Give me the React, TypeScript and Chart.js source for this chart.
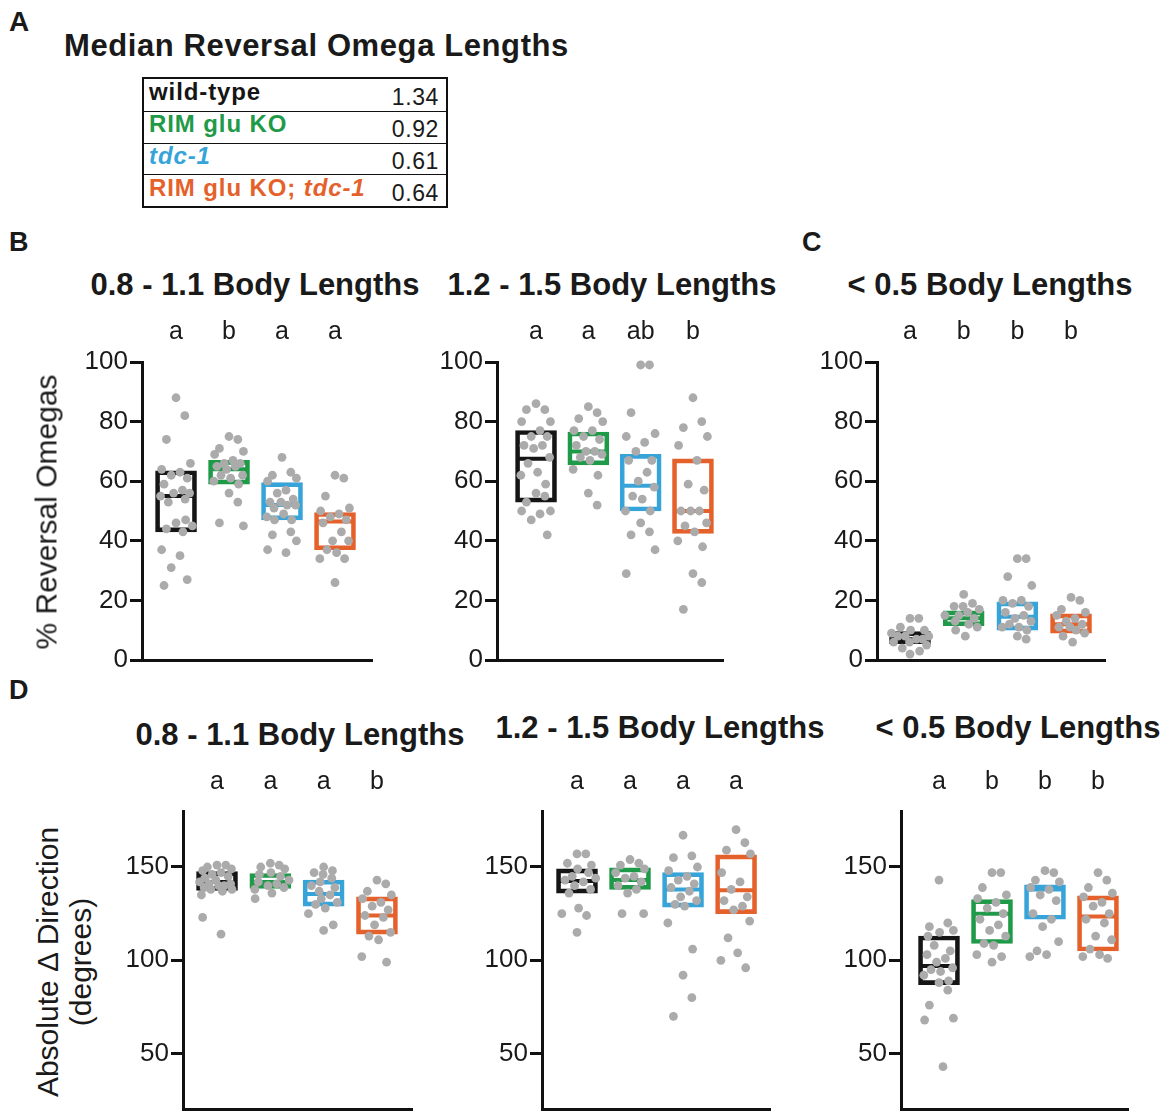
import React, { useEffect, useRef } from "react";
import { Chart, registerables } from "chart.js";

Chart.register(...registerables);

const FONT = "'Liberation Sans', Arial, Helvetica, sans-serif";
const INK = "#1a1a1a";
const DOT = "#ababab";

// ---------- data ----------
const groupNames = ["wild-type", "RIM glu KO", "tdc-1", "RIM glu KO; tdc-1"];
const groupColors = ["#151515", "#1f9a48", "#37a4d9", "#e5612b"];
const medianLengths = ["1.34", "0.92", "0.61", "0.64"];

const titleMid = "0.8 - 1.1 Body Lengths";
const titleLong = "1.2 - 1.5 Body Lengths";
const titleShort = "< 0.5 Body Lengths";

const percentTicks = [0, 20, 40, 60, 80, 100];
const degreeTicks = [50, 100, 150];

// B: 0.8 - 1.1 body lengths (% reversal omegas)
const b1WildType = [88, 82, 74, 66, 64, 63, 62, 61, 59, 57, 56, 56, 55, 54, 53, 47, 46, 45, 44, 43, 37, 35, 31, 27, 25];
const b1GluKO = [75, 74, 71, 70, 69, 67, 66, 66, 65, 65, 64, 62, 62, 61, 60, 59, 56, 53, 46, 45];
const b1Tdc1 = [68, 63, 62, 61, 60, 57, 56, 54, 53, 53, 52, 52, 51, 49, 48, 47, 47, 43, 42, 40, 37, 36];
const b1Double = [62, 61, 55, 51, 50, 49, 48, 47, 46, 43, 40, 40, 37, 36, 34, 34, 26];
const b1Q1 = [43, 59, 47, 37];
const b1Median = [55, 64, 52, 46.5];
const b1Q3 = [63.5, 67, 59.5, 49.5];
const b1Letters = ["a", "b", "a", "a"];

// B: 1.2 - 1.5 body lengths
const b2WildType = [86, 84, 84, 80, 80, 77, 75, 75, 72, 72, 71, 68, 66, 63, 62, 59, 56, 55, 53, 50, 50, 49, 47, 42];
const b2GluKO = [85, 83, 81, 80, 77, 77, 75, 74, 72, 70, 70, 69, 68, 67, 64, 62, 56, 52];
const b2Tdc1 = [99, 99, 83, 76, 75, 73, 70, 67, 67, 63, 60, 58, 55, 54, 50, 50, 46, 43, 42, 37, 29];
const b2Double = [88, 80, 78, 75, 72, 67, 59, 57, 50, 50, 50, 46, 45, 43, 40, 38, 29, 26, 17];
const b2Q1 = [53, 65.5, 50, 42.5];
const b2Median = [67.5, 70, 58.5, 50];
const b2Q3 = [77, 76.5, 69, 67.5];
const b2Letters = ["a", "a", "ab", "b"];

// C: < 0.5 body lengths
const cWildType = [14, 14, 11, 10, 10, 9, 8, 8, 8, 7, 7, 6, 6, 5, 4, 3, 2];
const cGluKO = [22, 19, 18, 18, 17, 16, 15, 15, 14, 13, 12, 11, 10, 8];
const cTdc1 = [34, 34, 28, 25, 20, 20, 19, 18, 16, 15, 14, 13, 12, 11, 11, 10, 8, 7];
const cDouble = [21, 20, 17, 16, 15, 14, 13, 12, 11, 11, 10, 9, 8, 6];
const cQ1 = [5.5, 11.5, 10, 9];
const cMedian = [7, 14, 14.5, 12];
const cQ3 = [9.5, 16.5, 19.5, 15.5];
const cLetters = ["a", "b", "b", "b"];

// D: absolute change in direction (degrees)
const d1WildType = [151, 151, 150, 149, 148, 147, 146, 145, 144, 143, 142, 141, 141, 140, 140, 139, 138, 138, 137, 135, 123, 114];
const d1GluKO = [152, 151, 150, 149, 147, 146, 145, 143, 142, 141, 140, 139, 138, 136, 133];
const d1Tdc1 = [150, 148, 147, 146, 144, 142, 140, 139, 137, 135, 133, 131, 130, 128, 125, 119, 116];
const d1Double = [143, 141, 137, 135, 133, 131, 129, 127, 124, 123, 119, 115, 113, 111, 102, 99];
const d1Q1 = [137.5, 138.5, 129, 114];
const d1Median = [142, 142, 135.5, 124];
const d1Q3 = [147.5, 146.5, 143, 134];
const d1Letters = ["a", "a", "a", "b"];

const d2WildType = [157, 157, 152, 151, 149, 147, 145, 144, 143, 142, 140, 138, 136, 128, 125, 124, 115];
const d2GluKO = [154, 152, 151, 149, 147, 145, 144, 142, 140, 138, 136, 125, 125];
const d2Tdc1 = [167, 156, 155, 150, 148, 145, 143, 141, 139, 137, 134, 132, 130, 129, 120, 106, 92, 80, 70];
const d2Double = [170, 163, 159, 157, 147, 142, 138, 134, 132, 129, 127, 121, 112, 104, 100, 96];
const d2Q1 = [136, 138, 128.5, 125];
const d2Median = [142.5, 143, 138, 137.5];
const d2Q3 = [149, 149.5, 147, 156.5];
const d2Letters = ["a", "a", "a", "a"];

const d3WildType = [143, 120, 118, 116, 115, 113, 108, 105, 103, 101, 99, 96, 95, 94, 92, 89, 88, 84, 76, 69, 68, 43];
const d3GluKO = [147, 147, 139, 135, 133, 131, 128, 125, 122, 119, 116, 113, 109, 108, 103, 102, 99];
const d3Tdc1 = [148, 147, 143, 142, 139, 138, 135, 132, 125, 122, 118, 110, 105, 103, 102];
const d3Double = [147, 143, 139, 136, 134, 131, 129, 125, 122, 120, 113, 111, 106, 103, 102, 101];
const d3Q1 = [87, 109, 122, 105];
const d3Median = [97, 125, 138, 123.5];
const d3Q3 = [113, 132.5, 140.5, 134.5];
const d3Letters = ["a", "b", "b", "b"];

// ---------- layout ----------
const panels: any[] = [
  { key: "b1", left: 60, top: 340, width: 330, height: 340, areaLeft: 142, areaRight: 372, areaTop: 362, areaBottom: 660,
    xMin: 0.358, xMax: 4.698, yMin: 0, yMax: 100, ticks: percentTicks,
    groups: [b1WildType, b1GluKO, b1Tdc1, b1Double], q1: b1Q1, q3: b1Q3, med: b1Median,
    letters: b1Letters, letterBase: 339, title: titleMid, titleX: 255, titleBase: 295 },
  { key: "b2", left: 415, top: 340, width: 330, height: 340, areaLeft: 497, areaRight: 723, areaTop: 362, areaBottom: 660,
    xMin: 0.254, xMax: 4.574, yMin: 0, yMax: 100, ticks: percentTicks,
    groups: [b2WildType, b2GluKO, b2Tdc1, b2Double], q1: b2Q1, q3: b2Q3, med: b2Median,
    letters: b2Letters, letterBase: 339, title: titleLong, titleX: 612, titleBase: 295 },
  { key: "c", left: 795, top: 340, width: 330, height: 340, areaLeft: 877, areaRight: 1105, areaTop: 362, areaBottom: 660,
    xMin: 0.385, xMax: 4.633, yMin: 0, yMax: 100, ticks: percentTicks,
    groups: [cWildType, cGluKO, cTdc1, cDouble], q1: cQ1, q3: cQ3, med: cMedian,
    letters: cLetters, letterBase: 339, title: titleShort, titleX: 990, titleBase: 295 },
  { key: "d1", left: 101, top: 790, width: 330, height: 324, areaLeft: 183, areaRight: 412, areaTop: 811, areaBottom: 1111,
    xMin: 0.362, xMax: 4.657, yMin: 20, yMax: 180, ticks: degreeTicks,
    groups: [d1WildType, d1GluKO, d1Tdc1, d1Double], q1: d1Q1, q3: d1Q3, med: d1Median,
    letters: d1Letters, letterBase: 789, title: titleMid, titleX: 300, titleBase: 745 },
  { key: "d2", left: 460, top: 790, width: 330, height: 324, areaLeft: 542, areaRight: 770, areaTop: 811, areaBottom: 1111,
    xMin: 0.34, xMax: 4.64, yMin: 20, yMax: 180, ticks: degreeTicks,
    groups: [d2WildType, d2GluKO, d2Tdc1, d2Double], q1: d2Q1, q3: d2Q3, med: d2Median,
    letters: d2Letters, letterBase: 789, title: titleLong, titleX: 660, titleBase: 738 },
  { key: "d3", left: 819, top: 790, width: 330, height: 324, areaLeft: 901, areaRight: 1128, areaTop: 811, areaBottom: 1111,
    xMin: 0.283, xMax: 4.566, yMin: 20, yMax: 180, ticks: degreeTicks,
    groups: [d3WildType, d3GluKO, d3Tdc1, d3Double], q1: d3Q1, q3: d3Q3, med: d3Median,
    letters: d3Letters, letterBase: 789, title: titleShort, titleX: 1018, titleBase: 738 },
];

// horizontal spread of the dots: a fixed preferred spread pattern, then nudged apart where dots collide
const spreadPattern = [0, 0.55, -0.6, 0.9, -0.9, 0.25, -0.3, 0.7, -0.75, 0.4, -0.15, 0.85, -0.5, 0.1, -0.95, 0.6];
function swarm(values: number[], pxY: number): number[] {
  const placed: { x: number; y: number }[] = [];
  const d = 7.5;
  const lim = 19;
  return values.map((v, j) => {
    const y = v * pxY;
    const pref = spreadPattern[j % spreadPattern.length] * 16;
    const cands = [0, d, -d, 2 * d, -2 * d, 3 * d, -3 * d, 4 * d, -4 * d]
      .map((o) => pref + o)
      .filter((x) => Math.abs(x) <= lim);
    let bestX = cands[0];
    let bestD = -1;
    for (const x of cands) {
      let m = Infinity;
      for (const p of placed) m = Math.min(m, Math.hypot(p.x - x, p.y - y));
      if (m >= d) { bestX = x; bestD = m; break; }
      if (m > bestD) { bestD = m; bestX = x; }
    }
    placed.push({ x: bestX, y });
    return bestX;
  });
}

function Panel({ p }: { p: any }) {
  const ref = useRef<HTMLCanvasElement | null>(null);
  useEffect(() => {
    if (!ref.current) return;
    const yScaleWidth = p.areaLeft - p.left;
    const pad = {
      left: 0,
      top: p.areaTop - p.top,
      right: p.left + p.width - p.areaRight,
      bottom: p.top + p.height - p.areaBottom,
    };
    const pxY = (p.areaBottom - p.areaTop) / (p.yMax - p.yMin);
    const pxX = (p.areaRight - p.areaLeft) / (p.xMax - p.xMin);
    const dots: { x: number; y: number }[] = [];
    p.groups.forEach((vals: number[], i: number) => {
      const offs = swarm(vals, pxY);
      vals.forEach((v, j) => dots.push({ x: i + 1 + offs[j] / pxX, y: v }));
    });
    const boxes = p.q1.map((lo: number, i: number) => ({ x: i + 1, y: [lo, p.q3[i]] }));
    const medians: number[] = p.med;

    const medianPlugin = {
      id: "medianLines",
      beforeDatasetsDraw(chart: any) {
        const { ctx } = chart;
        const xs = chart.scales.x;
        const ys = chart.scales.y;
        ctx.save();
        medians.forEach((m, i) => {
          const cx = xs.getPixelForValue(i + 1);
          const py = ys.getPixelForValue(m);
          ctx.strokeStyle = groupColors[i];
          ctx.lineWidth = 4;
          ctx.beginPath();
          ctx.moveTo(cx - 19, py);
          ctx.lineTo(cx + 19, py);
          ctx.stroke();
        });
        ctx.restore();
      },
    };

    const chart = new Chart(ref.current, {
      type: "bar",
      data: {
        datasets: [
          {
            type: "scatter",
            data: dots,
            backgroundColor: DOT,
            borderColor: DOT,
            pointRadius: 4.4,
            pointBorderWidth: 0,
            order: 0,
            clip: false,
          } as any,
          {
            type: "bar",
            data: boxes,
            backgroundColor: "rgba(0,0,0,0)",
            borderColor: groupColors,
            borderWidth: 4,
            borderSkipped: false,
            barThickness: 41,
            order: 1,
            clip: false,
          } as any,
        ],
      },
      options: {
        animation: false,
        responsive: false,
        maintainAspectRatio: false,
        events: [],
        layout: { padding: pad },
        plugins: { legend: { display: false }, tooltip: { enabled: false }, title: { display: false } },
        scales: {
          x: {
            type: "linear",
            min: p.xMin,
            max: p.xMax,
            offset: false,
            ticks: { display: false },
            grid: { display: true, drawOnChartArea: false, drawTicks: false },
            border: { display: true, width: 3, color: "#111" },
            afterFit: (s: any) => { s.height = 0; s.paddingLeft = 0; s.paddingRight = 0; },
          },
          y: {
            type: "linear",
            min: p.yMin,
            max: p.yMax,
            afterBuildTicks: (s: any) => { s.ticks = p.ticks.map((v: number) => ({ value: v })); },
            ticks: { font: { family: FONT, size: 26 }, color: INK, padding: 2 },
            grid: { drawOnChartArea: false, drawTicks: true, tickLength: 12, tickWidth: 3, tickColor: "#111", color: "#111", lineWidth: 3 },
            border: { display: true, width: 3, color: "#111" },
            afterFit: (s: any) => { s.width = yScaleWidth; s.paddingTop = 0; s.paddingBottom = 0; },
          },
        },
      } as any,
      plugins: [medianPlugin],
    });
    return () => chart.destroy();
  }, [p]);
  return (
    <canvas
      ref={ref}
      width={p.width}
      height={p.height}
      style={{ position: "absolute", left: p.left, top: p.top, width: p.width, height: p.height }}
    />
  );
}

function Txt(props: any) {
  const { x, base, size, bold, center, color, italic, spacing, children } = props;
  const style: any = {
    position: "absolute",
    top: base - 0.8465 * size,
    fontSize: size,
    lineHeight: `${size}px`,
    fontWeight: bold ? "bold" : "normal",
    fontStyle: italic ? "italic" : "normal",
    whiteSpace: "nowrap",
    color: color || INK,
    letterSpacing: spacing || 0,
  };
  if (center) {
    style.left = x - 400;
    style.width = 800;
    style.textAlign = "center";
  } else {
    style.left = x;
  }
  return <div style={style}>{children}</div>;
}

function Table() {
  const rowH = 31.75;
  return (
    <div style={{ position: "absolute", left: 142, top: 77, width: 306, height: 131, border: "2px solid #111", boxSizing: "border-box" }}>
      {groupNames.map((g, i) => {
        let label: any = g;
        if (i === 2) label = <i>{g}</i>;
        if (i === 3) label = <>RIM glu KO; <i>tdc-1</i></>;
        return (
          <div key={g} style={{ position: "absolute", left: 0, right: 0, top: i * rowH, height: rowH, borderTop: i ? "1.5px solid #111" : "none", boxSizing: "border-box" }}>
            <div style={{ position: "absolute", left: 5, top: 21 - 0.8465 * 24, fontSize: 24, lineHeight: "24px", fontWeight: "bold", letterSpacing: 0.9, color: groupColors[i], whiteSpace: "nowrap" }}>{label}</div>
            <div style={{ position: "absolute", right: 7, top: 26 - 0.8465 * 23, fontSize: 23, lineHeight: "23px", letterSpacing: 0.6, color: INK, whiteSpace: "nowrap" }}>{medianLengths[i]}</div>
          </div>
        );
      })}
    </div>
  );
}

export default function App() {
  return (
    <div style={{ position: "absolute", left: 0, top: 0, width: 1171, height: 1114, overflow: "hidden", background: "#fff", fontFamily: FONT, color: INK }}>
      <Txt x={9} base={32} size={28} bold>A</Txt>
      <Txt x={64} base={56} size={31} bold spacing={0.6}>Median Reversal Omega Lengths</Txt>
      <Table />
      <Txt x={9} base={252} size={27} bold>B</Txt>
      <Txt x={802} base={252} size={27} bold>C</Txt>
      <Txt x={9} base={700} size={27} bold>D</Txt>

      {panels.map((p) => (
        <Panel key={p.key} p={p} />
      ))}

      {panels.map((p) => (
        <Txt key={p.key + "-t"} x={p.titleX} base={p.titleBase} size={31} bold center>{p.title}</Txt>
      ))}
      {panels.map((p) =>
        p.letters.map((l: string, i: number) => {
          const cx = p.areaLeft + ((i + 1 - p.xMin) / (p.xMax - p.xMin)) * (p.areaRight - p.areaLeft);
          return (
            <Txt key={p.key + "-l" + i} x={cx} base={p.letterBase} size={25} center>{l}</Txt>
          );
        })
      )}

      <div style={{ position: "absolute", left: 46, top: 512, transform: "translate(-50%, -50%) rotate(-90deg)", fontSize: 30, lineHeight: "33px", whiteSpace: "nowrap" }}>
        % Reversal Omegas
      </div>
      <div style={{ position: "absolute", left: 64, top: 962, transform: "translate(-50%, -50%) rotate(-90deg)", fontSize: 30, lineHeight: "33px", whiteSpace: "nowrap", textAlign: "center" }}>
        Absolute Δ Direction<br />(degrees)
      </div>
    </div>
  );
}
